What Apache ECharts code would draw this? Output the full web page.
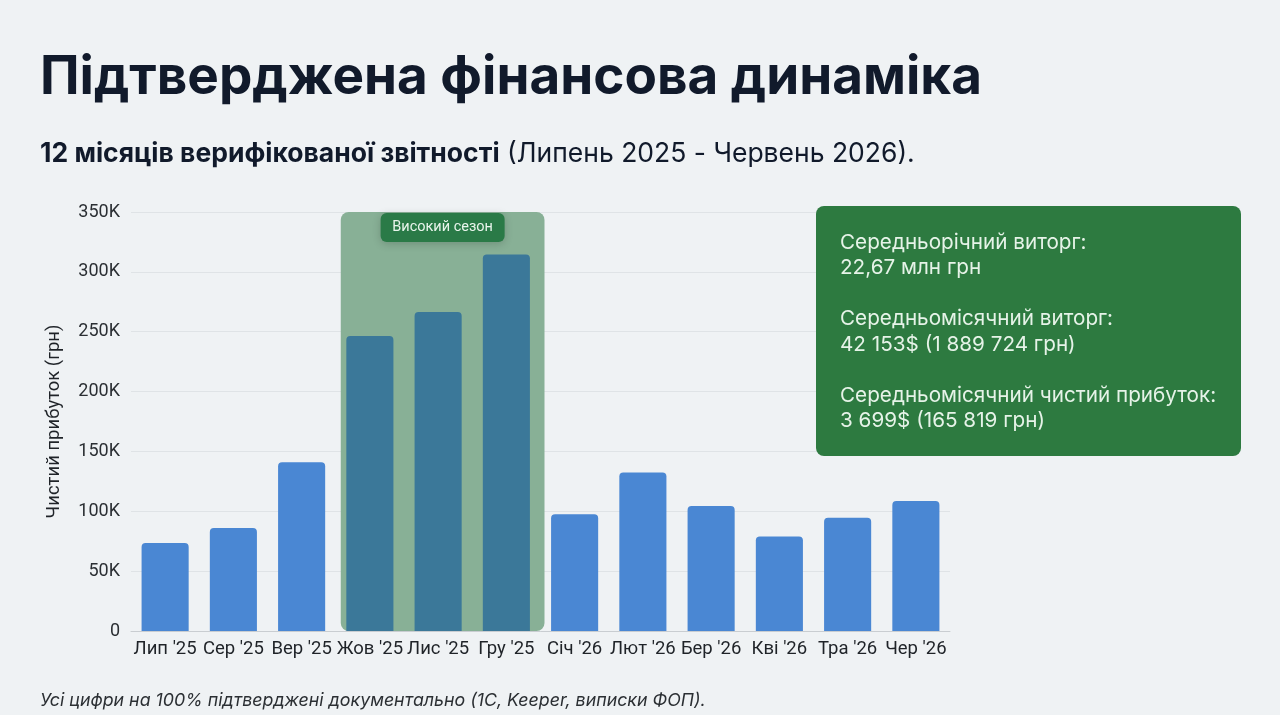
<!DOCTYPE html>
<html><head><meta charset="utf-8">
<script src="https://cdn.jsdelivr.net/npm/echarts@6/dist/echarts.min.js"></script>
<style>html,body{margin:0;padding:0;background:#eff2f4;}#c{width:1280px;height:715px;}</style>
</head><body><div id="c"></div>
<script>
const categories = ["Лип '25","Сер '25","Вер '25","Жов '25","Лис '25","Гру '25","Січ '26","Лют '26","Бер '26","Кві '26","Тра '26","Чер '26"];
const profit = [73500, 86000, 141000, 246500, 266500, 314500, 97500, 132500, 104500, 79000, 94500, 108500];
const yTicks = [0, 50000, 100000, 150000, 200000, 250000, 300000, 350000];
const highSeason = ["Жов '25", "Гру '25"];
const highSeasonLabel = "Високий сезон";
const titleText = "Підтверджена фінансова динаміка";
const subtitleBold = "12 місяців верифікованої звітності";
const subtitleRest = " (Липень 2025 - Червень 2026).";
const yAxisName = "Чистий прибуток (грн)";
const footnote = "Усі цифри на 100% підтверджені документально (1С, Keeper, виписки ФОП).";
const infoLines = [
  ["Середньорічний виторг:", "22,67 млн грн"],
  ["Середньомісячний виторг:", "42 153$ (1 889 724 грн)"],
  ["Середньомісячний чистий прибуток:", "3 699$ (165 819 грн)"]
];

const FONT = 'Inter, "Noto Sans", sans-serif';
const LFONT = 'Roboto, "Noto Sans", sans-serif';
const hsStart = categories.indexOf(highSeason[0]);
const hsEnd = categories.indexOf(highSeason[1]);
const yMax = yTicks[yTicks.length - 1];

const chart = echarts.init(document.getElementById('c'), null, {renderer: 'canvas'});

const infoText = infoLines.map(l => l.join('\n')).join('\n\n');

chart.setOption({
  backgroundColor: '#eff2f4',
  animation: false,
  textStyle: {fontFamily: FONT},
  grid: {left: 131, right: 330, top: 212, bottom: 84, containLabel: false},
  xAxis: {
    type: 'category',
    data: categories,
    axisTick: {show: false},
    axisLine: {lineStyle: {color: '#c9cdd1', width: 1}},
    axisLabel: {color: '#1f2328', fontSize: 18.5, fontFamily: LFONT, margin: 9, interval: 0, hideOverlap: false}
  },
  yAxis: {
    type: 'value',
    min: 0, max: yMax, interval: yTicks[1] - yTicks[0],
    name: yAxisName,
    nameLocation: 'middle',
    nameRotate: 90,
    nameGap: 67,
    nameTextStyle: {color: '#1f2328', fontSize: 18.5, fontFamily: LFONT},
    axisLine: {show: false},
    axisTick: {show: false},
    splitLine: {lineStyle: {color: '#dfe3e6', width: 1}},
    axisLabel: {
      color: '#2b2f33', fontSize: 18, fontFamily: LFONT, margin: 11,
      formatter: v => v === 0 ? '0' : (v / 1000) + 'K'
    }
  },
  series: [
    {
      type: 'custom',
      z: 1,
      silent: true,
      data: [[hsStart, hsEnd, yMax]],
      encode: {x: [0, 1], y: 2},
      renderItem: function (params, api) {
        const bw = api.size([1, 0])[0];
        const pTop = api.coord([api.value(0), api.value(2)]);
        const pEnd = api.coord([api.value(1), 0]);
        const x0 = pTop[0] - bw / 2 + 5;
        const x1 = pEnd[0] + bw / 2 + 4;
        const cx = (x0 + x1) / 2;
        const bwBadge = 124, bh = 29;
        return {
          type: 'group',
          children: [
            {type: 'rect', shape: {x: x0, y: pTop[1], width: x1 - x0, height: pEnd[1] - pTop[1], r: 8},
             style: {fill: '#88b096'}},
            {type: 'rect', shape: {x: cx - bwBadge / 2, y: pTop[1] + 1, width: bwBadge, height: bh, r: 6},
             style: {fill: '#2a7a47', shadowBlur: 8, shadowColor: 'rgba(0,0,0,0.18)', shadowOffsetY: 2}},
            {type: 'text', x: cx, y: pTop[1] + 1 + bh / 2,
             style: {text: highSeasonLabel, fill: '#e9f5ec', font: '14.5px ' + LFONT, align: 'center', verticalAlign: 'middle'}}
          ]
        };
      }
    },
    {
      type: 'bar',
      z: 3,
      barWidth: '69%',
      data: profit.map((v, i) => ({
        value: v,
        itemStyle: {color: (i >= hsStart && i <= hsEnd) ? '#3b7899' : '#4a87d3'}
      })),
      itemStyle: {borderRadius: [4, 4, 0, 0]}
    }
  ],
  graphic: [
    {type: 'text', left: 40, top: 52, z: 100,
     style: {text: titleText, fill: '#111a2b', font: 'bold 53px ' + FONT}},
    {type: 'text', left: 40, top: 141, z: 100,
     style: {
       text: '{b|' + subtitleBold + '}{r|' + subtitleRest + '}',
       rich: {
         b: {font: 'bold 26.5px ' + FONT, fill: '#111a2b'},
         r: {font: '26.5px ' + FONT, fill: '#111a2b'}
       }
     }},
    {type: 'rect', left: 816, top: 206, z: 100, shape: {width: 425, height: 250, r: 8},
     style: {fill: '#2d7a40'}},
    {type: 'text', left: 840, top: 230, z: 101,
     style: {text: infoText, fill: '#e6f3e8', font: '20.7px ' + FONT, lineHeight: 25.5}},
    {type: 'text', left: 40, top: 692, z: 100,
     style: {text: footnote, fill: '#2b2f33', font: 'italic 17.8px ' + FONT}}
  ]
});
</script>
</body></html>
